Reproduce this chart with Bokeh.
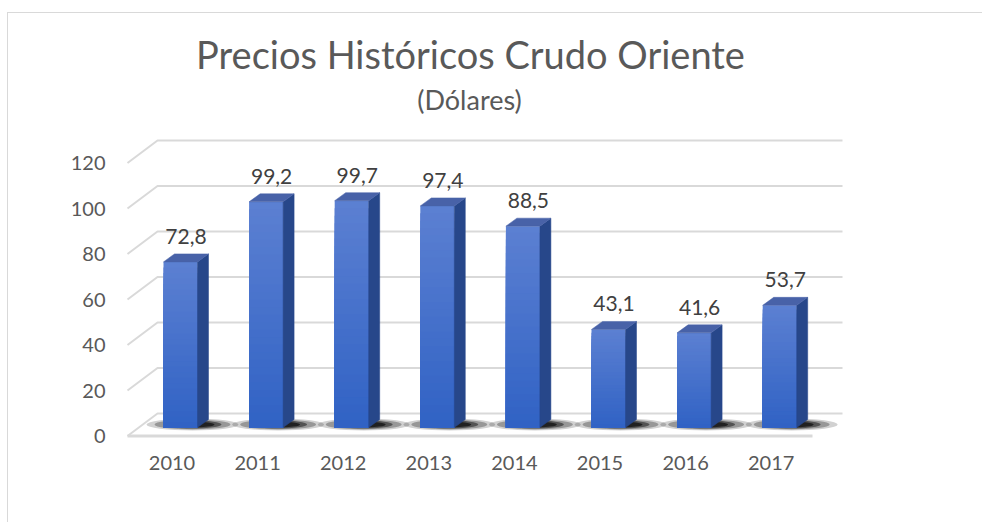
from bokeh.plotting import figure
from bokeh.models import FixedTicker, Label, Range1d
from bokeh.core.properties import value
from bokeh.embed import file_html
from bokeh.resources import INLINE

# ---------------- data ----------------
YEARS = ["2010", "2011", "2012", "2013", "2014", "2015", "2016", "2017"]
PRICES = [72.8, 99.2, 99.7, 97.4, 88.5, 43.1, 41.6, 53.7]
PRICE_LABELS = ["72,8", "99,2", "99,7", "97,4", "88,5", "43,1", "41,6", "53,7"]
Y_TICKS = [0, 20, 40, 60, 80, 100, 120]
TITLE = "Precios Históricos Crudo Oriente"
SUBTITLE = "(Dólares)"

# ---------------- geometry (pixels -> data) ----------------
OX, OY = 8, 13                 # page position of the figure canvas
W, H = 974, 509
PX_X = 85.6          # pixels per category
PX_Y = 2.275         # pixels per unit of value
X0_PAGE, Y0_PAGE = 171.5, 435.5   # page position of (category 0, value 0) on the front plane
FR_L, FR_T, FR_W, FR_H = 114, 7, 760, 422   # frame box inside figure
page_l = OX + FR_L
page_b = OY + FR_T + FR_H
x_start = (page_l - X0_PAGE) / PX_X
x_end = x_start + FR_W / PX_X
y_start = -(page_b - Y0_PAGE) / PX_Y
y_end = y_start + FR_H / PX_Y


def px_to_x(px):
    return (px - X0_PAGE) / PX_X


def py_to_y(py):
    return (Y0_PAGE - py) / PX_Y


DXF, DYF = 30 / PX_X, 22.5 / PX_Y           # full depth of the box
LEFT_FRONT = px_to_x(127)
RIGHT_BACK = px_to_x(842)
BAR_DX0 = 8.5 / PX_X                         # front-face centre offset
BAR_BASE = 8.5 / PX_Y                        # front-face base above front floor edge
BAR_HW = 17 / PX_X                           # half width of the bar face
BAR_DX, BAR_DY = 11 / PX_X, 8 / PX_Y         # bar depth

FONT = "Lato"
GRID = "#d9d9d9"
TXT = "#595959"

p = figure(width=W, height=H, output_backend="svg", toolbar_location=None,
           x_range=Range1d(x_start, x_end), y_range=Range1d(y_start, y_end),
           min_border_left=FR_L, min_border_top=FR_T,
           min_border_right=W - FR_L - FR_W, min_border_bottom=H - FR_T - FR_H,
           frame_width=FR_W, frame_height=FR_H)
p.outline_line_color = None
p.xgrid.visible = False
p.ygrid.visible = False
p.background_fill_color = "white"
p.border_fill_color = "white"
p.styles = {"margin-left": "7px", "margin-top": "12px",
            "border-left": "1px solid #d9d9d9", "border-top": "1px solid #d9d9d9"}

# axes
p.yaxis.ticker = FixedTicker(ticks=Y_TICKS)
p.yaxis.axis_line_color = None
p.yaxis.major_tick_line_color = None
p.yaxis.minor_tick_line_color = None
p.yaxis.major_tick_out = 0
p.yaxis.major_label_standoff = 17
p.yaxis.major_label_text_font = FONT
p.yaxis.major_label_text_font_size = "20px"
p.yaxis.major_label_text_color = TXT

p.xaxis.ticker = FixedTicker(ticks=list(range(len(YEARS))))
p.xaxis.major_label_overrides = {i: y for i, y in enumerate(YEARS)}
p.xaxis.axis_line_color = None
p.xaxis.major_tick_line_color = None
p.xaxis.minor_tick_line_color = None
p.xaxis.major_tick_out = 0
p.xaxis.major_label_standoff = 13
p.xaxis.major_label_text_font = FONT
p.xaxis.major_label_text_font_size = "20px"
p.xaxis.major_label_text_color = TXT

# back wall gridlines and left-wall diagonals
for t in Y_TICKS[1:]:
    p.line([LEFT_FRONT, LEFT_FRONT + DXF, RIGHT_BACK], [t, t + DYF, t + DYF],
           line_color=GRID, line_width=2)

# floor
fl_x = [LEFT_FRONT, LEFT_FRONT + DXF, RIGHT_BACK, RIGHT_BACK - DXF]
fl_y = [0, DYF, DYF, 0]
p.patch(fl_x, fl_y, fill_color="white", line_color=None)
p.line([LEFT_FRONT, LEFT_FRONT + DXF, RIGHT_BACK], [0, DYF, DYF], line_color=GRID, line_width=2)
p.line([LEFT_FRONT, RIGHT_BACK - DXF], [0, 0], line_color=GRID, line_width=3)

# shadows under bars
n = len(PRICES)
cx = [i + BAR_DX0 + 12 / PX_X for i in range(n)]
cy = [BAR_BASE + 3 / PX_Y for _ in range(n)]
for w, h, a in [(92, 12, 0.18), (76, 10, 0.28), (58, 8, 0.45), (44, 6, 0.6)]:
    p.ellipse(x=cx, y=cy, width=w / PX_X, height=h / PX_Y,
              fill_color="black", fill_alpha=a, line_color=None)

# bars: front face gradient (overlapping quads, tallest/lightest first)
TOP_C = (0x5C, 0x80, 0xD2)
BOT_C = (0x30, 0x62, 0xC4)
NS = 30
qx0, qx1, qb, qt, qc = [], [], [], [], []
for k in range(NS, 0, -1):
    f = (k - 0.5) / NS
    c = tuple(int(round(BOT_C[j] + (TOP_C[j] - BOT_C[j]) * f)) for j in range(3))
    for i, v in enumerate(PRICES):
        qx0.append(i + BAR_DX0 - BAR_HW)
        qx1.append(i + BAR_DX0 + BAR_HW)
        qb.append(BAR_BASE)
        qt.append(BAR_BASE + v * k / NS)
        qc.append("#%02x%02x%02x" % c)
p.quad(left=qx0, right=qx1, bottom=qb, top=qt, fill_color=qc, line_color=None)

# side faces and top faces
side_xs, side_ys, top_xs, top_ys = [], [], [], []
for i, v in enumerate(PRICES):
    xr = i + BAR_DX0 + BAR_HW
    xl = i + BAR_DX0 - BAR_HW
    yb = BAR_BASE
    yt = BAR_BASE + v
    side_xs.append([xr, xr, xr + BAR_DX, xr + BAR_DX])
    side_ys.append([yb, yt, yt + BAR_DY, yb + BAR_DY])
    top_xs.append([xl, xr, xr + BAR_DX, xl + BAR_DX])
    top_ys.append([yt, yt, yt + BAR_DY, yt + BAR_DY])
p.patches(side_xs, side_ys, fill_color="#27478a", line_color="#27478a", line_width=0.5)
p.patches(top_xs, top_ys, fill_color="#4862a8", line_color="#4862a8", line_width=0.5)

# value labels
lx = [i + BAR_DX0 + BAR_DX / 2 for i in range(n)]
ly = [BAR_BASE + v + BAR_DY for v in PRICES]
p.text(x=lx, y=ly, text=PRICE_LABELS, text_align="center", text_baseline="bottom",
       y_offset=-10, text_font=value(FONT), text_font_size="21px", text_color="#404040")

# titles
p.add_layout(Label(x=px_to_x(470), y=py_to_y(53), text=TITLE, text_align="center",
                   text_baseline="middle", text_font=FONT, text_font_size="38px",
                   text_color=TXT))
p.add_layout(Label(x=px_to_x(469), y=py_to_y(99), text=SUBTITLE, text_align="center",
                   text_baseline="middle", text_font=FONT, text_font_size="27px",
                   text_color=TXT))

open("out.html", "w").write(file_html(p, INLINE))
